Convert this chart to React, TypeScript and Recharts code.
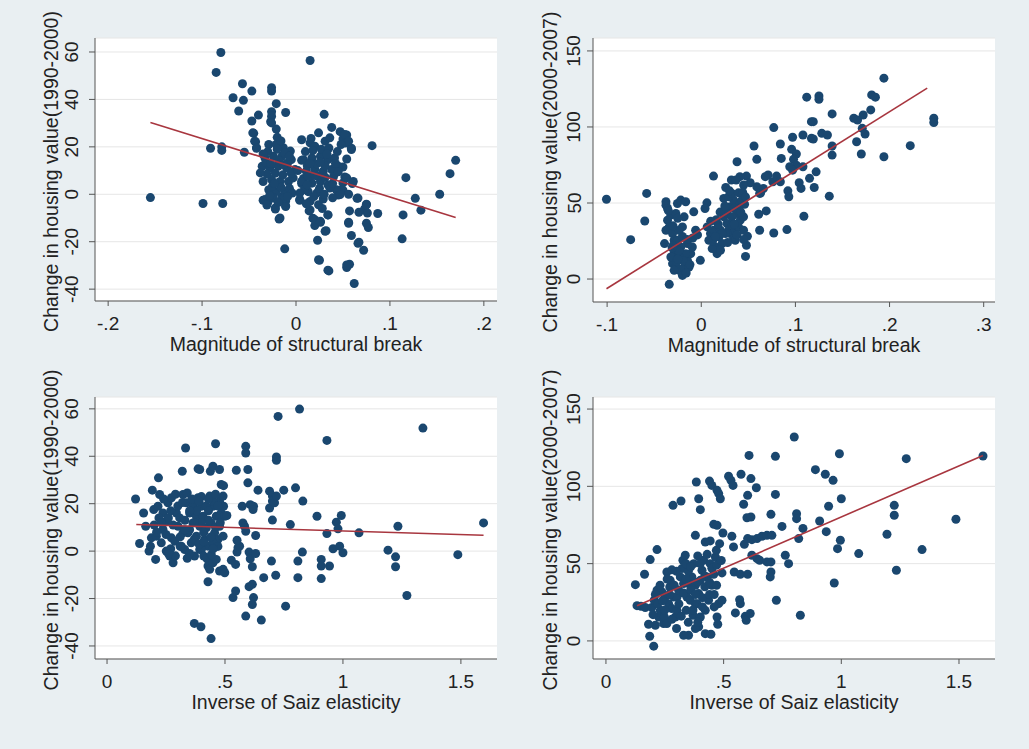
import React from 'react';
import { ScatterChart, Scatter, XAxis, YAxis, CartesianGrid } from 'recharts';

const NAVY = '#1a476f';
const MAROON = '#a8363f';
const FONT = '"Liberation Sans", Arial, Helvetica, sans-serif';
const BG = '#e9eff2';

type P = [number, number];

// ---------- Panel 1: structural break vs change 1990-2000 ----------
const breakX1Ticks = [-0.2, -0.1, 0, 0.1, 0.2];
const value9000Ticks = [-40, -20, 0, 20, 40, 60];
const break9000Points: P[] = [
  [-0.155, -1.4], [-0.099, -3.9], [-0.078, -3.9], [-0.091, 19.4], [-0.079, 20], [-0.079, 18.5], [-0.085, 51.4], [-0.08, 59.8],
  [0.015, 56.4], [-0.067, 40.7], [-0.057, 46.6], [-0.047, 43.5], [-0.056, 39.6], [-0.061, 35.1], [-0.055, 17.7], [-0.047, 30.9],
  [-0.04, 33.4], [-0.045, 25.7], [-0.043, 22.2], [-0.042, 19.4], [-0.026, 44.9], [-0.026, 43.5], [-0.021, 38.2], [-0.026, 34.8],
  [-0.027, 30.6], [-0.021, 27.5], [-0.011, 34.5], [0.03, 33.7], [0.038, 28.2], [0.081, 20.5], [0.117, 7.0], [0.127, -1.7],
  [0.133, -6.7], [0.114, -8.7], [0.113, -18.8], [0.153, 0], [0.164, 8.7], [0.17, 14.3], [0.087, -8.1], [0.075, -4.2],
  [0.073, -6.2], [0.076, -7.9], [0.075, -12.2], [0.077, -14], [0.065, -1.7], [0.067, -7.6], [0.067, -20.2], [0.072, -23.6],
  [0.057, -7.0], [0.056, -11.8], [0.059, -17.4], [0.057, -29.5], [0.054, -30.9], [0.062, -37.6], [0.035, -32.3], [0.025, -27.8],
  [0.023, -19.4], [0.032, -15.4], [0.034, -8.7], [0.026, -11.8], [0.02, -13.2], [0.018, -10.1], [0.014, -7.0], [0.004, -2.5],
  [-0.018, -10.4], [-0.022, -6.2], [-0.012, -23.0], [-0.035, -2.5], [-0.03, -3.4], [-0.011, -4.8], [-0.011, -2.8], [-0.015, -1.1],
  [0.05, 4.8], [0.06, 4.5], [0.054, 14.9], [0.059, 19.4], [0.05, 23.3], [0.047, 26.4], [0.054, 25], [0.053, 21.6],
  [0.05, 11.5], [0.052, 7.3], [0.05, 1.7], [0.056, 0], [0.045, -0.3], [0.047, 1.7], [0.006, 23.0], [0.006, 14.3],
  [0.008, 6.7], [0.006, 4.5],
  [-0.026, 32.9], [-0.026, 30.1], [-0.046, 25.9], [-0.044, 22.4], [-0.042, 19.6], [-0.029, 21], [-0.021, 21], [-0.0135, 19.6],
  [-0.006, 18.2], [-0.033, 15.3], [-0.024, 16], [-0.015, 16], [-0.005, 14.6], [-0.036, 11.8], [-0.028, 11.1], [-0.019, 11.8],
  [-0.01, 11.1], [-0.001, 10.4], [-0.035, 5.4], [-0.026, 6.2], [-0.017, 5.4], [-0.008, 5.4], [-0.003, 6.9], [-0.029, 1.9],
  [-0.021, 1.1], [-0.012, 1.1], [-0.024, -1.6], [-0.013, -1.6], [-0.033, -2.2], [-0.022, -5.8], [-0.017, -10], [-0.011, -5.2],
  [0.004, -2.2],
  [0.024, 25.9], [0.015, 21.7], [0.02, 20.3], [0.031, 22.4], [0.036, 23.8], [0.052, 25.2], [0.056, 22.4], [0.059, 18.9],
  [0.008, 14.6], [0.017, 15.3], [0.026, 16], [0.034, 14.6], [0.041, 15.3], [0.011, 9.7], [0.02, 10.4], [0.029, 9.7],
  [0.038, 10.4], [0.045, 11.8], [0.054, 6.9], [0.006, 5.4], [0.017, 4.7], [0.026, 5.4], [0.034, 4.0], [0.043, 1.9],
  [0.061, 5.4], [0.013, 1.1], [0.022, 0.5], [0.015, -3], [0.024, -4.4], [0.036, 2.6], [0.047, -0.1], [0.015, -6.6],
  [0.02, -10.7], [0.026, -11.4], [0.031, -15.6], [0.066, -1.6], [0.075, -4.4], [0.034, -8.7], [0.056, -12.2], [0.066, -20.7],
  [0.024, -27.6], [0.034, -32], [0.054, -29.8],
  [-0.031, 8.5], [-0.022, 8.9], [-0.014, 8.2], [-0.005, 8.8], [-0.032, 13.5], [-0.018, 14], [-0.009, 13.2], [-0.025, 3.5],
  [-0.016, 3.0], [-0.007, 2.5], [-0.03, 18], [-0.012, 17.5], [-0.02, 24], [-0.016, 22.5], [-0.035, 17], [-0.038, 9],
  [-0.004, 0.5], [-0.009, -1], [-0.019, -3.5], [-0.028, -0.5],
  [0.012, 12], [0.022, 12.8], [0.031, 12], [0.04, 7.5], [0.01, 18], [0.018, 18.5], [0.027, 19], [0.044, 18],
  [0.013, 7.5], [0.022, 7.8], [0.031, 7.2], [0.009, 2], [0.019, -1], [0.029, -2], [0.039, -1.5], [0.028, -6],
  [0.011, -4], [0.048, 21], [0.026, 13.5], [0.016, 23.5], [0.035, 19.5], [0.039, 4.5], [0.045, 9.5], [0.002, 10],
  [0.004, 0.5],
  [-0.027, 13], [-0.023, 4.5], [-0.013, 12.5], [-0.02, 19], [-0.007, 16], [0.015, 13], [0.025, 2.5], [0.033, 17],
  [0.042, 13], [0.012, 4], [0.02, 8], [0.03, 0], [-0.031, -4.5],
];
const break9000Fit: P[] = [[-0.155, 30.3], [0.17, -9.8]];

// ---------- Panel 2: structural break vs change 2000-2007 ----------
const breakX2Ticks = [-0.1, 0, 0.1, 0.2, 0.3];
const value0007Ticks = [0, 50, 100, 150];
const break0007Points: P[] = [
  [-0.1007, 52.5], [-0.075, 25.9], [-0.06, 38.2], [-0.058, 56.3], [0.194, 132.1], [0.112, 119.6], [0.125, 120.4], [0.125, 118.2],
  [0.181, 121.1], [0.185, 119.6], [0.18, 111.2], [0.172, 107.9], [0.162, 105.7], [0.166, 104.6], [0.171, 99.1], [0.174, 95.4],
  [0.165, 90.3], [0.17, 82.2], [0.194, 80.4], [0.222, 87.7], [0.247, 105.7], [0.247, 102.9], [0.139, 108.6], [0.128, 95.8],
  [0.134, 94.7], [0.139, 87.5], [0.139, 81.5], [0.136, 54.5], [0.117, 103.5], [0.119, 103.5], [0.108, 94.7], [0.117, 92.5],
  [0.119, 92.1], [0.122, 70.5], [0.12, 60.2], [0.115, 66.2], [0.108, 73.8], [0.104, 63.3], [0.106, 59.6], [0.109, 41.3],
  [0.097, 93.2], [0.096, 85.3], [0.101, 82.2], [0.098, 78.7], [0.101, 74.9], [0.094, 73.8], [0.097, 71.6], [0.084, 88.8],
  [0.085, 79.3], [0.077, 99.6], [0.092, 58], [0.093, 54.1], [0.091, 32.5], [0.076, 64], [0.071, 68.4], [0.068, 67.3],
  [0.08, 67.7], [0.084, 64], [0.077, 30.3], [0.069, 44.8], [0.062, 56.3], [0.059, 60.7], [0.059, 78.7], [0.056, 87.5],
  [0.061, 42.6], [0.062, 32.1], [0.048, 67.7], [0.052, 63.3], [0.041, 67.3], [0.045, 61.8], [0.038, 77.1], [0.032, 65.1],
  [0.037, 65.1], [0.013, 67.7], [0.026, 60.2], [0.006, 50.1], [0.004, 46.4], [-0.008, 44.2], [0.046, 49.2], [0.048, 22.2],
  [0.047, 14.9], [0.049, 28.1], [-0.001, 12.3],
  [-0.0375, 50.8], [-0.0375, 48.6], [-0.0358, 46.4], [-0.0323, 42], [-0.0358, 38.7], [-0.034, 34.3], [-0.0375, 32.1], [-0.039, 23.3],
  [-0.0305, 29.9], [-0.0288, 25.5], [-0.027, 43.1], [-0.0253, 49.7], [-0.0218, 51.9], [-0.0165, 50.8], [-0.0182, 40.9], [-0.02, 34.3],
  [-0.0235, 32.1], [-0.0253, 25.5], [-0.0288, 16.7], [-0.0305, 10.1], [-0.027, 7.9], [-0.0235, 5.7], [-0.0182, 7.9], [-0.0147, 12.3],
  [-0.0112, 16.7], [-0.0095, 21.1], [-0.006, 32.1], [-0.0147, 23.3], [-0.0323, 14.5], [-0.034, -3.5], [-0.02, 2.4], [-0.0218, 21.1],
  [-0.0165, 16.7], [-0.013, 7.9], [-0.0235, 14.5], [-0.0288, 5.7],
  [0.0063, 34.3], [0.0098, 29.9], [0.0081, 25.5], [0.0133, 32.1], [0.0151, 21.1], [0.0168, 16.7], [0.0186, 27.7], [0.0221, 23.3],
  [0.0204, 18.9], [0.0116, 20], [0.0239, 40.9], [0.0274, 36.5], [0.0291, 32.1], [0.0309, 29.9], [0.0344, 26.6], [0.0361, 32.1],
  [0.0396, 34.3], [0.0414, 38.7], [0.0309, 47.5], [0.0344, 51.9], [0.0379, 43.1], [0.0414, 49.7], [0.0449, 40.9], [0.0449, 32.1],
  [0.0274, 43.1], [0.0256, 29.9], [0.0326, 40.9], [0.0361, 25.5], [0.0239, 53], [0.0291, 54.1], [0.0326, 56.3], [0.0396, 56.7],
  [0.0432, 51.9], [0.0204, 32.1], [0.063, 56.5], [0.066, 59.5],
  [-0.028, 20], [-0.024, 18.5], [-0.019, 12], [-0.016, 4], [-0.012, 9.5], [-0.026, 11.5], [-0.031, 20.5], [-0.009, 27],
  [-0.004, 29], [-0.035, 45],
  [0.018, 36], [0.022, 30], [0.028, 24], [0.033, 35.5], [0.038, 29], [0.04, 46], [0.035, 46.5], [0.044, 57],
  [0.012, 25], [0.016, 39], [0.047, 54],
  [-0.03, 35], [-0.025, 40], [-0.02, 28], [-0.015, 26], [-0.03, 22], [-0.025, 13], [0.01, 38], [0.02, 44],
  [0.025, 48], [0.03, 58], [0.042, 44], [0.015, 28], [0.035, 36], [0.045, 26],
];
const break0007Fit: P[] = [[-0.1007, -6.4], [0.24, 125.5]];

// ---------- Panel 3: inverse Saiz elasticity vs change 1990-2000 ----------
const saizTicks = [0, 0.5, 1, 1.5];
const saiz9000Points: P[] = [
  [0.121, 22.0], [0.138, 3.2], [0.155, 16.1], [0.164, 10.5], [0.192, 25.7], [0.218, 30.9], [0.223, 23.9],
  [0.178, 0], [0.184, 2.1], [0.206, -3.5], [0.188, 5.6], [0.209, 6.3], [0.198, 17.5], [0.216, 18.9], [0.237, 16.1],
  [0.251, 12.6], [0.237, 9.1], [0.23, 3.5], [0.251, 0], [0.266, -2.1], [0.28, -4.9], [0.273, 5.6], [0.258, 20.4],
  [0.273, 22.5], [0.294, 16.1], [0.308, 14], [0.301, 10.5], [0.322, 7.7], [0.315, 2.1], [0.329, 0.7], [0.287, 4.2],
  [0.319, 33.7], [0.333, 43.5],
  [0.322, 23.9], [0.336, 20.4], [0.35, 16.1], [0.364, 11.9], [0.343, 7.7], [0.357, 3.5], [0.379, 6.3], [0.393, 10.5],
  [0.379, 14.7], [0.364, 18.9], [0.386, 22.5], [0.4, 18.9], [0.407, 14.7], [0.421, 9.8], [0.414, 4.9], [0.428, 2.1],
  [0.393, 0.7], [0.371, -2.1], [0.386, 34.7],
  [0.435, 23.2], [0.449, 18.9], [0.463, 14.7], [0.442, 11.9], [0.456, 7.7], [0.477, 10.5], [0.484, 16.1], [0.477, 21.1],
  [0.492, 23.2], [0.47, 4.9], [0.449, 3.5],
  [0.4, 0.7], [0.41, -2.1], [0.424, -3.2], [0.428, -6.3], [0.435, -7.7], [0.428, -12.9], [0.449, -4.9], [0.463, -3.5],
  [0.477, -8.4], [0.492, -7.7], [0.499, -9.1], [0.442, -1.5],
  [0.37, -30.5], [0.398, -31.9], [0.441, -36.9],
  [0.393, 34.4], [0.438, 33.7], [0.449, 35.8], [0.477, 34.4], [0.46, 45.3], [0.484, 28.1], [0.494, 27.6], [0.477, 14.7],
  [0.494, 18.9], [0.499, 14.7], [0.492, 6.3], [0.508, 15],
  [0.527, -3.8], [0.545, -5.6], [0.551, -0.4], [0.555, 1.4], [0.562, 2.1], [0.534, -19.6], [0.545, -16.8],
  [0.548, 34.1], [0.551, 4.6], [0.573, 18.9], [0.576, 11.9], [0.583, 10.5], [0.588, 8.4],
  [0.588, 44.2], [0.588, 41.4], [0.597, 34.4], [0.597, 28.8], [0.607, 19.6], [0.621, 18.9], [0.63, 6.6], [0.619, 17.5],
  [0.602, -0.4], [0.607, -3.2], [0.616, -6.6], [0.63, -1], [0.602, -15], [0.616, -14], [0.621, -19.6], [0.616, -22.5],
  [0.588, -27.4], [0.64, 25.7], [0.654, -29.1], [0.664, -11.2],
  [0.689, 25.3], [0.701, 23.2], [0.689, 18.2], [0.701, 21.1], [0.71, 20.4], [0.718, 23.2],
  [0.701, 13.1], [0.697, -4.2], [0.715, -10.2], [0.718, 39.7], [0.718, 38.3], [0.725, 56.8],
  [0.749, 25.7], [0.757, -23.2], [0.777, 11.2], [0.799, 26.7], [0.816, 59.9], [0.83, 21.1], [0.809, -4.2], [0.809, -11.2],
  [0.828, -0.4], [0.89, 14.7], [0.908, -3.5], [0.908, -6.3], [0.908, -11.6], [0.943, -6.3], [0.932, 46.7],
  [0.932, 7.4], [0.958, 1], [0.972, 12.2], [0.979, 9.4], [0.993, 15], [0.986, 2.1], [1.0, -0.7],
  [1.068, 7.7], [1.191, 0.4], [1.223, -2.4], [1.223, -6.6], [1.233, 10.5], [1.271, -18.7], [1.339, 51.9], [1.487, -1.5],
  [1.596, 11.9],
  [0.26, 14], [0.28, 11], [0.3, 19], [0.31, 6], [0.33, 13], [0.34, 24.5], [0.35, 9], [0.36, 22],
  [0.37, 5], [0.38, 17], [0.39, 3], [0.4, 23], [0.41, 8], [0.42, 19], [0.43, 13], [0.44, 6],
  [0.45, 21], [0.46, 10], [0.47, 2], [0.24, 22], [0.27, 1], [0.29, -2], [0.32, 20.5], [0.35, -1],
  [0.2, 11], [0.22, 14], [0.25, 7], [0.4, 12], [0.43, 22], [0.47, 19],
  [0.21, 8], [0.23, 12], [0.27, 17], [0.29, 24], [0.31, 2], [0.33, 9], [0.35, 17], [0.37, 12],
  [0.39, 21], [0.41, 4], [0.43, 17], [0.45, 1], [0.46, 24], [0.48, 12], [0.26, -1], [0.34, -3],
];
const saiz9000Fit: P[] = [[0.124, 11.2], [1.596, 6.7]];

// ---------- Panel 4: inverse Saiz elasticity vs change 2000-2007 ----------
const saiz0007Points: P[] = [
  [0.125, 36.4], [0.132, 22.8], [0.149, 22.4], [0.167, 21.6], [0.164, 43.1], [0.188, 52.6], [0.217, 59.1],
  [0.186, 3], [0.203, -3.4], [0.21, 10.1], [0.181, 10.8], [0.195, 21.6], [0.205, 26.3], [0.217, 32.8], [0.224, 15.5],
  [0.231, 19.8], [0.238, 31.7], [0.245, 11.2], [0.248, 15.5], [0.259, 11.2], [0.266, 24.1], [0.271, 34.9], [0.259, 44.6],
  [0.273, 39.2], [0.288, 28.4], [0.28, 20.9], [0.295, 15.5], [0.302, 28.4], [0.309, 32.8], [0.302, 19.8], [0.316, 41.4],
  [0.323, 46.8], [0.327, 52.2], [0.337, 55.4], [0.33, 37.1], [0.344, 28.4], [0.341, 19.8], [0.358, 26.3], [0.351, 37.1],
  [0.365, 41.4], [0.373, 50], [0.38, 36], [0.38, 24.1], [0.37, 16.6], [0.394, 30.6], [0.401, 39.2], [0.408, 45.7],
  [0.415, 52.2], [0.429, 41.4], [0.443, 50], [0.45, 36], [0.436, 26.3], [0.422, 19.8], [0.401, 15.5], [0.387, 24.1],
  [0.458, 43.1], [0.465, 54.3], [0.469, 58.6], [0.443, 64.7], [0.479, 24.1], [0.472, 15.5], [0.422, 4.7], [0.394, 9.1],
  [0.38, 8], [0.351, 3.7], [0.33, 3.7],
  [0.285, 87.7], [0.319, 90.5], [0.384, 102.8], [0.44, 103.4], [0.394, 92], [0.401, 84.9], [0.38, 68.3], [0.422, 64],
  [0.45, 100.6], [0.472, 97.4], [0.458, 75.4], [0.472, 74.8], [0.479, 95.3], [0.486, 92], [0.483, 62.9], [0.497, 69.8],
  [0.446, 4.3], [0.475, 10.8], [0.493, 26.3], [0.493, 44],
  [0.521, 106.5], [0.531, 103.9], [0.54, 100.6], [0.574, 107.8], [0.535, 67.7], [0.542, 60.8], [0.545, 44.6], [0.571, 43.1],
  [0.55, 18.1], [0.568, 26.7], [0.571, 24.1], [0.585, 88.4], [0.588, 62.5], [0.602, 43.1], [0.592, 15.9], [0.596, 13.4],
  [0.613, 17.7], [0.608, 120], [0.616, 105], [0.639, 99.1], [0.602, 94.2], [0.599, 79.7], [0.616, 80.2], [0.602, 66.2],
  [0.62, 65.5], [0.642, 66.2], [0.663, 67.7], [0.684, 68.3], [0.705, 68.3], [0.62, 55.4], [0.642, 53.2], [0.653, 52.2],
  [0.684, 51.1], [0.701, 44.6], [0.698, 41.4], [0.701, 51.1],
  [0.72, 119.4], [0.72, 94.8], [0.701, 81.9], [0.724, 26.3], [0.748, 74.1], [0.762, 55.4], [0.776, 50], [0.8, 131.9],
  [0.81, 82.3], [0.81, 79.1], [0.819, 66.2], [0.837, 72.8], [0.826, 16.6], [0.89, 110.8], [0.908, 77.6], [0.932, 107.8],
  [0.936, 70.7], [0.946, 87.1], [0.965, 103.9], [0.97, 37.5], [0.984, 59.7], [0.992, 121.1], [1.0, 92], [0.996, 65.1],
  [1.074, 56.5], [1.194, 69], [1.225, 87.7], [1.225, 81.3], [1.234, 45.7], [1.276, 117.9], [1.343, 59.1], [1.487, 78.7],
  [1.602, 119.6],
  [0.2, 17], [0.22, 24], [0.25, 28], [0.27, 30], [0.29, 36], [0.31, 24], [0.33, 31], [0.35, 45],
  [0.36, 33], [0.37, 20], [0.39, 38], [0.41, 28], [0.42, 35], [0.44, 30], [0.45, 47], [0.46, 30],
  [0.43, 56], [0.34, 50], [0.3, 45], [0.26, 40], [0.24, 26], [0.39, 12], [0.41, 22], [0.47, 49],
  [0.21, 30], [0.23, 36], [0.25, 20], [0.28, 46], [0.32, 16], [0.34, 40], [0.36, 48], [0.38, 30],
  [0.4, 50], [0.42, 42], [0.44, 38], [0.46, 22], [0.28, 14], [0.3, 8], [0.35, 12], [0.39, 55],
  [0.47, 36], [0.49, 52],
];
const saiz0007Fit: P[] = [[0.132, 22.8], [1.602, 120]];

const Y_TITLE_9000 = 'Change in housing value(1990-2000)';
const Y_TITLE_0007 = 'Change in housing value(2000-2007)';
const X_TITLE_BREAK = 'Magnitude of structural break';
const X_TITLE_SAIZ = 'Inverse of Saiz elasticity';

const toObj = (arr: P[]) => arr.map(([x, y]) => ({ x, y }));
const fmt = (v: number) => {
  if (v === 0) return '0';
  return String(v).replace(/^(-?)0\./, '$1.');
};

interface PanelDef {
  left: number; top: number; width: number; height: number;
  plot: { l: number; r: number; t: number; b: number };
  xDomain: [number, number]; yDomain: [number, number];
  xTicks: number[]; yTicks: number[];
  points: P[]; fit: P[];
  xTitle: string; yTitle: string;
  tickOff: number; titleOff: number;
}

const Y_AXIS_W = 70;
const X_AXIS_H = 60;
const TICK_SIZE = 6;

function Panel(p: PanelDef) {
  const margin = {
    top: p.plot.t,
    right: p.width - p.plot.r,
    left: p.plot.l - Y_AXIS_W,
    bottom: p.height - p.plot.b - X_AXIS_H,
  };
  const pts = toObj(p.points);
  const fit = toObj(p.fit);
  const yTick = (props: any) => {
    const cx = props.x + TICK_SIZE - p.tickOff;
    const cy = props.y;
    return (
      <text x={cx} y={cy} transform={`rotate(-90 ${cx} ${cy})`} textAnchor="middle" dominantBaseline="central"
        fontSize={19} fontFamily={FONT} fill="#222">
        {fmt(props.payload.value)}
      </text>
    );
  };
  const ycx = p.plot.l - p.titleOff;
  const ycy = (p.plot.t + p.plot.b) / 2 + 2;
  return (
    <div style={{ position: 'absolute', left: p.left, top: p.top, width: p.width, height: p.height }}>
      <ScatterChart width={p.width} height={p.height} margin={margin}>
        <CartesianGrid horizontal vertical={false} stroke="#e6e6e6" fill="#ffffff" />
        <XAxis type="number" dataKey="x" domain={p.xDomain} ticks={p.xTicks} interval={0} allowDataOverflow
          tickFormatter={fmt} height={X_AXIS_H} tickSize={5} tickMargin={11}
          axisLine={{ stroke: '#555' }} tickLine={{ stroke: '#555' }}
          tick={{ fill: '#222', fontSize: 19, fontFamily: FONT }} />
        <YAxis type="number" dataKey="y" domain={p.yDomain} ticks={p.yTicks} interval={0} allowDataOverflow
          width={Y_AXIS_W} tickSize={TICK_SIZE} tickMargin={0}
          axisLine={{ stroke: '#555' }} tickLine={{ stroke: '#555' }} tick={yTick} />
        <Scatter data={pts} isAnimationActive={false}
          shape={(s: any) => <circle cx={s.cx} cy={s.cy} r={4.5} fill={NAVY} />} />
        <Scatter data={fit} isAnimationActive={false} line={{ stroke: MAROON, strokeWidth: 1.6 }}
          shape={() => <g />} />
      </ScatterChart>
      <svg width={p.width} height={p.height} style={{ position: 'absolute', left: 0, top: 0, pointerEvents: 'none' }}>
        <text x={ycx} y={ycy} transform={`rotate(-90 ${ycx} ${ycy})`} textAnchor="middle" dominantBaseline="central"
          fontSize={19.5} fontFamily={FONT} fill="#222">{p.yTitle}</text>
        <text x={(p.plot.l + p.plot.r) / 2} y={p.plot.b + 50} textAnchor="middle"
          fontSize={19.5} fontFamily={FONT} fill="#222">{p.xTitle}</text>
      </svg>
    </div>
  );
}

export default function App() {
  return (
    <div style={{ position: 'absolute', left: 0, top: 0, width: 1029, height: 749, background: BG, overflow: 'hidden' }}>
      <Panel left={0} top={0} width={515} height={370} plot={{ l: 95, r: 497, t: 38, b: 301 }}
        xDomain={[-0.214, 0.214]} yDomain={[-45, 65.9]} xTicks={breakX1Ticks} yTicks={value9000Ticks}
        points={break9000Points} fit={break9000Fit} xTitle={X_TITLE_BREAK} yTitle={Y_TITLE_9000}
        tickOff={23} titleOff={44} />
      <Panel left={515} top={0} width={514} height={370} plot={{ l: 78, r: 480, t: 38, b: 302 }}
        xDomain={[-0.115, 0.312]} yDomain={[-15.1, 158.5]} xTicks={breakX2Ticks} yTicks={value0007Ticks}
        points={break0007Points} fit={break0007Fit} xTitle={X_TITLE_BREAK} yTitle={Y_TITLE_0007}
        tickOff={19} titleOff={43} />
      <Panel left={0} top={370} width={515} height={379} plot={{ l: 95, r: 497, t: 27, b: 289 }}
        xDomain={[-0.051, 1.653]} yDomain={[-45.5, 65]} xTicks={saizTicks} yTicks={value9000Ticks}
        points={saiz9000Points} fit={saiz9000Fit} xTitle={X_TITLE_SAIZ} yTitle={Y_TITLE_9000}
        tickOff={23} titleOff={44} />
      <Panel left={515} top={370} width={514} height={379} plot={{ l: 78, r: 480, t: 27, b: 289 }}
        xDomain={[-0.055, 1.653]} yDomain={[-11.7, 157.8]} xTicks={saizTicks} yTicks={value0007Ticks}
        points={saiz0007Points} fit={saiz0007Fit} xTitle={X_TITLE_SAIZ} yTitle={Y_TITLE_0007}
        tickOff={19} titleOff={43} />
    </div>
  );
}
